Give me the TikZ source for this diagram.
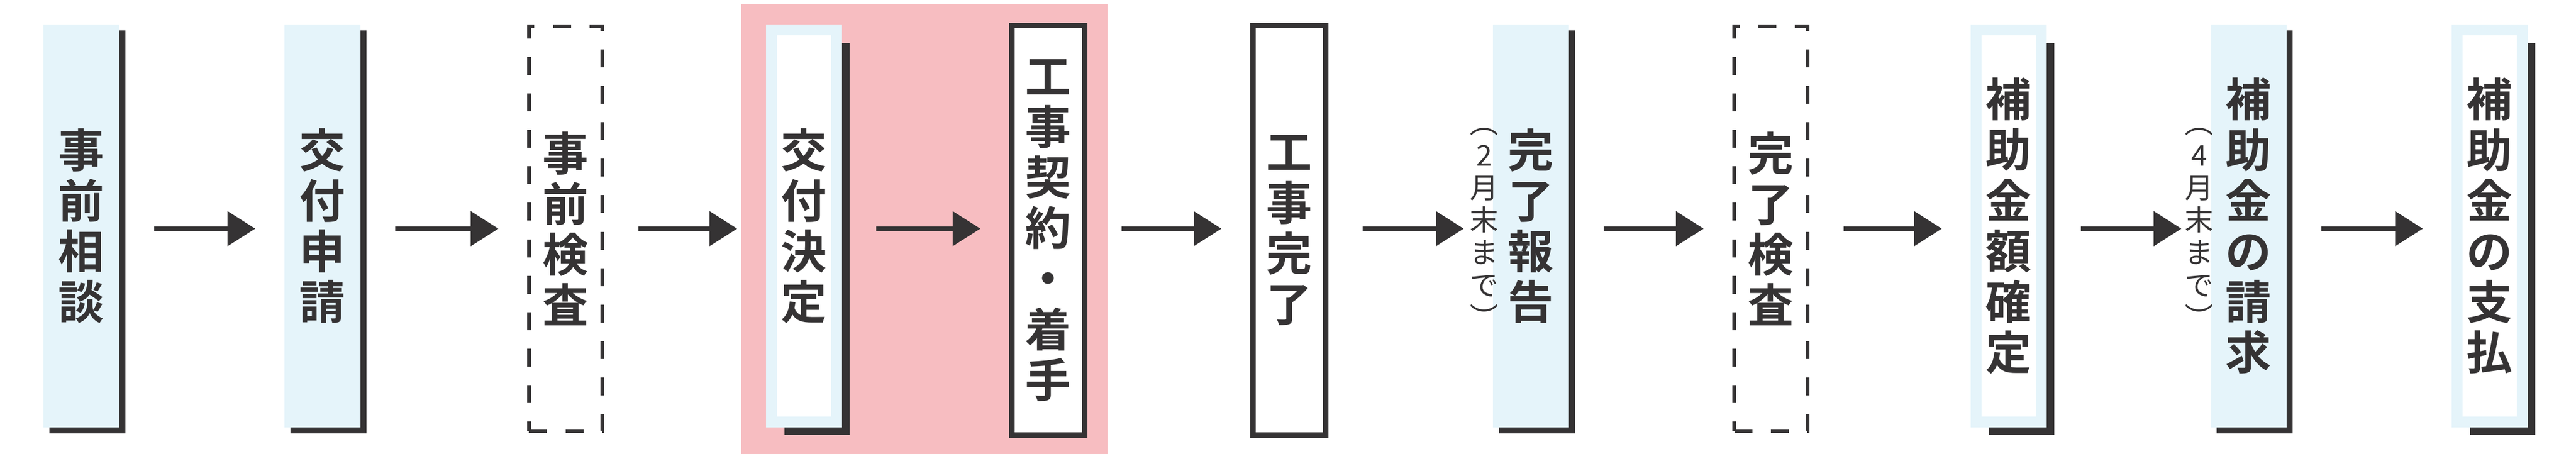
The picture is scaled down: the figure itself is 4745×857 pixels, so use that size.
\documentclass[tikz,border=0pt]{standalone}
\usepackage{fontspec}
\newfontfamily\jpbold{Noto Sans CJK JP Bold}
\newfontfamily\jpregular{Noto Sans CJK JP}
\usepackage{tikz}
\usetikzlibrary{arrows.meta,shadows,positioning}

\definecolor{ink}{HTML}{353334}
\definecolor{skyfill}{HTML}{E5F4FA}
\definecolor{pinkbg}{HTML}{F7BDC1}

\tikzset{
  steptext/.style={text=ink,align=center,inner sep=0pt,
    font=\jpbold\fontsize{24pt}{26.5pt}\selectfont},
  skybox/.style={steptext,fill=skyfill,minimum width=1.40cm,minimum height=7.42cm,
    drop shadow={shadow xshift=0.11cm,shadow yshift=-0.11cm,fill=ink,opacity=1}},
  framedsky/.style={steptext,fill=white,draw=skyfill,line width=0.20cm,
    minimum width=1.20cm,minimum height=7.22cm,
    drop shadow={shadow xshift=0.24cm,shadow yshift=-0.24cm,fill=ink,opacity=1}},
  linebox/.style={steptext,fill=white,draw=ink,line width=0.10cm,
    minimum width=1.34cm,minimum height=7.53cm},
  dashbox/.style={steptext,draw=ink,line width=0.065cm,dash pattern=on 0.33cm off 0.34cm,
    minimum width=1.35cm,minimum height=7.45cm},
  sidenote/.style={text=ink,align=center,inner sep=0pt,
    font=\jpregular\fontsize{15pt}{17pt}\selectfont},
  flow/.style={draw=ink,line width=0.09cm,shorten <=0.63cm,shorten >=0.53cm,
    -{Triangle[length=0.51cm,width=0.62cm]}},
}

\begin{document}
\begin{tikzpicture}[x=0.01cm,y=-0.01cm]
  \useasboundingbox (0,0) rectangle (4745,857);
  % highlighted phase
  \fill[pinkbg] (1365,7) rectangle (2040,836);
  \coordinate (flowline) at (0,421);
%
  \node[skybox]    (consult)  at (150,416)  {事\\前\\相\\談};
  \node[skybox]    (apply)    at (594,416)  {交\\付\\申\\請};
  \node[dashbox]   (precheck) at (1042,421) {事\\前\\検\\査};
  \node[framedsky] (decide)   at (1481,416) {交\\付\\決\\定};
  \node[linebox]   (contract) at (1931,424) {工\\事\\契\\約\\・\\着\\手};
  \node[linebox]   (finish)   at (2375,424) {工\\事\\完\\了};
  \node[skybox]    (report)   at (2820,416) {完\\了\\報\\告};
  \node[dashbox]   (postcheck) at (3262,421) {完\\了\\検\\査};
  \node[framedsky] (amount)   at (3700,416) {補\\助\\金\\額\\確\\定};
  \node[skybox]    (claim)    at (4142,416) {補\\助\\金\\の\\請\\求};
  \node[framedsky] (payment)  at (4586,416) {補\\助\\金\\の\\支\\払};
%
  \node[sidenote] (reportdue) at (2734,420) {︵\\2\\月\\末\\ま\\で\\︶};
  \node[sidenote] (claimdue)  at (4051,420) {︵\\4\\月\\末\\ま\\で\\︶};
%
  \draw[flow] (consult.east |- flowline)  -- (apply.west |- flowline);
  \draw[flow] (apply.east |- flowline)    -- (precheck.west |- flowline);
  \draw[flow] (precheck.east |- flowline) -- (decide.west |- flowline);
  \draw[flow] (decide.east |- flowline)   -- (contract.west |- flowline);
  \draw[flow] (contract.east |- flowline) -- (finish.west |- flowline);
  \draw[flow] (finish.east |- flowline)   -- (report.west |- flowline);
  \draw[flow] (report.east |- flowline)   -- (postcheck.west |- flowline);
  \draw[flow] (postcheck.east |- flowline) -- (amount.west |- flowline);
  \draw[flow] (amount.east |- flowline)   -- (claim.west |- flowline);
  \draw[flow] (claim.east |- flowline)    -- (payment.west |- flowline);
\end{tikzpicture}
\end{document}
